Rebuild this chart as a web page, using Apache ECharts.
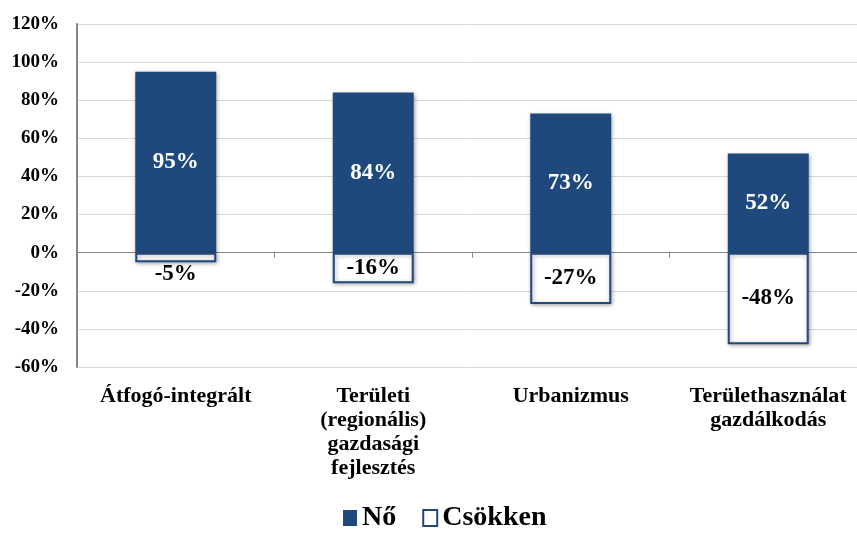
<!DOCTYPE html>
<html><head><meta charset="utf-8">
<script src="https://cdn.jsdelivr.net/npm/echarts@6/dist/echarts.min.js"></script>
<style>html,body{margin:0;padding:0;background:#fff}#c{width:857px;height:537px}</style>
</head><body><div id="c"></div>
<script>
const categories = ['Átfogó-integrált', 'Területi\n(regionális)\ngazdasági\nfejlesztés', 'Urbanizmus', 'Területhasználat\ngazdálkodás'];
const noValues = [95, 84, 73, 52];
const csokkenValues = [-5, -16, -27, -48];
const seriesNames = ['Nő', 'Csökken'];
const yMin = -60, yMax = 120, yStep = 20;

const FONT = '"Liberation Serif", "DejaVu Serif", serif';
const BLUE = '#1F497D';
const chart = echarts.init(document.getElementById('c'));
chart.setOption({
  animation: false,
  textStyle: { fontFamily: FONT },
  grid: { left: 77, width: 790, top: 24, bottom: 170, containLabel: false, outerBoundsMode: 'none' },
  legend: {
    bottom: 0, left: 338, itemWidth: 14, itemHeight: 16, itemGap: 26,
    textStyle: { fontFamily: FONT, fontWeight: 'bold', fontSize: 28, color: '#000', padding: [0, 0, 0, 0] },
    data: [
      { name: seriesNames[0], icon: 'rect', itemStyle: { color: BLUE } },
      { name: seriesNames[1], icon: 'rect', itemStyle: { color: '#fff', borderColor: BLUE, borderWidth: 2 } }
    ]
  },
  xAxis: [
    { type: 'category', data: categories, axisLine: { onZero: true, lineStyle: { color: '#868686', width: 1 } },
      axisTick: { show: true, length: 5, lineStyle: { color: '#868686' } }, axisLabel: { show: false } },
    { type: 'category', data: categories, position: 'bottom', axisLine: { show: false }, axisTick: { show: false },
      axisLabel: { margin: 17, fontFamily: FONT, fontWeight: 'bold', fontSize: 22, color: '#000', lineHeight: 24, interval: 0 } }
  ],
  yAxis: {
    type: 'value', min: yMin, max: yMax, interval: yStep,
    axisLine: { show: true, lineStyle: { color: '#868686', width: 2 } },
    axisTick: { show: false },
    splitLine: { lineStyle: { color: '#d9d9d9', width: 1 } },
    axisLabel: { formatter: v => v + '%', margin: 18, fontFamily: FONT, fontWeight: 'bold', fontSize: 19, color: '#000' }
  },
  series: [
    { name: seriesNames[0], type: 'bar', stack: 'a', barWidth: '41%', xAxisIndex: 0,
      itemStyle: { color: BLUE, shadowColor: 'rgba(0,0,0,0.35)', shadowBlur: 4, shadowOffsetX: 1, shadowOffsetY: 1 },
      label: { show: true, position: 'inside', formatter: p => p.value + '%', color: '#fff', fontFamily: FONT, fontWeight: 'bold', fontSize: 23 },
      data: noValues },
    { name: seriesNames[1], type: 'bar', stack: 'a', barWidth: '41%', xAxisIndex: 0,
      itemStyle: { color: '#fff', borderColor: BLUE, borderWidth: 2, shadowColor: 'rgba(0,0,0,0.35)', shadowBlur: 4, shadowOffsetX: 1, shadowOffsetY: 1 },
      label: { show: true, position: 'inside', formatter: p => p.value + '%', color: '#000', fontFamily: FONT, fontWeight: 'bold', fontSize: 23 },
      data: csokkenValues.map(v => Math.abs(v) < 10 ? { value: v, label: { position: 'bottom', distance: 0 } } : v) }
  ]
});
</script></body></html>
